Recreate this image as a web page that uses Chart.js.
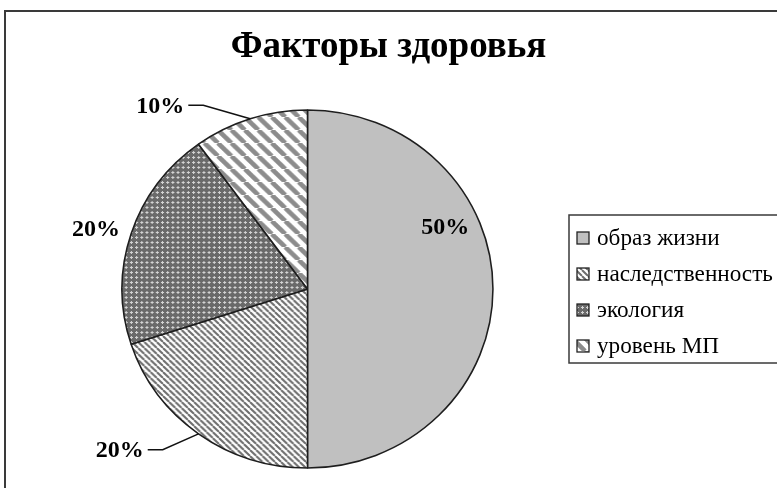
<!DOCTYPE html>
<html>
<head>
<meta charset="utf-8">
<title>Факторы здоровья</title>
<script src="https://cdn.jsdelivr.net/npm/chart.js@4/dist/chart.umd.min.js"></script>
<style>
  html, body { margin: 0; padding: 0; background: #fff; overflow: hidden; }
  canvas { display: block; }
</style>
</head>
<body>
<canvas id="factorsChart" width="777" height="488"></canvas>
<script>
const chartTitle = 'Факторы здоровья';
const factors = ['образ жизни', 'наследственность', 'экология', 'уровень МП'];
const shares = [50, 20, 20, 10];

const SERIF = '"Liberation Serif", "Times New Roman", serif';
const PIE_STRETCH = 1.036; // the pie is drawn a touch wider than tall
const ctx = document.getElementById('factorsChart').getContext('2d');

// small repeating fills, like the black-and-white office palette
function makePattern(size, paint) {
  const tile = document.createElement('canvas');
  tile.width = tile.height = size;
  paint(tile.getContext('2d'), size);
  return ctx.createPattern(tile, 'repeat');
}

function stripes(size, width, color) {
  return makePattern(size, (g, s) => {
    g.fillStyle = '#fff';
    g.fillRect(0, 0, s, s);
    g.strokeStyle = color;
    g.lineWidth = width;
    g.beginPath();
    for (const o of [-s, 0, s]) {
      g.moveTo(o, 0);
      g.lineTo(o + s, s);
    }
    g.stroke();
  });
}

const gridFill = makePattern(5, (g, s) => {
  g.fillStyle = '#6a6a6a';
  g.fillRect(0, 0, s, s);
  g.fillStyle = '#d4d4d4';
  g.fillRect(2, 1, 1, 3);
  g.fillRect(1, 2, 3, 1);
});

const fills = ['#c0c0c0', stripes(6, 2, '#6e6e6e'), gridFill, stripes(13, 4.5, '#8c8c8c')];

// where each percentage goes: distance as a share of the radius, turn in degrees from the slice middle
const labelSpots = [
  { dist: 0.82, turn: -25 },
  { dist: 1.19, turn: 5, leader: true },
  { dist: 1.19, turn: -1.5 },
  { dist: 1.17, turn: -10.7, leader: true }
];

// keeps room on the right for the legend, so the pie sits left of the title centre
const legendSpace = {
  position: 'right',
  weight: 10,
  fullSize: false,
  options: {},
  isHorizontal() { return false; },
  update(maxWidth, maxHeight) { this.width = 162; this.height = maxHeight; },
  draw() {}
};

const framePlugin = {
  id: 'frame',
  beforeInit(chart) { Chart.layouts.addBox(chart, legendSpace); },
  beforeDraw(chart) {
    const c = chart.ctx;
    c.save();
    c.fillStyle = '#fff';
    c.fillRect(0, 0, chart.width, chart.height);
    c.strokeStyle = '#3a3a3a';
    c.lineWidth = 2;
    c.strokeRect(5, 11, chart.width + 40, chart.height + 40);
    c.restore();
  }
};

const widePie = {
  id: 'widePie',
  beforeDatasetsDraw(chart) {
    const cx = chart.getDatasetMeta(0).data[0].x;
    const c = chart.ctx;
    c.save();
    c.translate(cx, 0);
    c.scale(PIE_STRETCH, 1);
    c.translate(-cx, 0);
  },
  afterDatasetsDraw(chart) {
    chart.ctx.restore();
  }
};

const percentLabels = {
  id: 'percentLabels',
  afterDatasetsDraw(chart) {
    const c = chart.ctx;
    const arcs = chart.getDatasetMeta(0).data;
    c.save();
    c.font = 'bold 24px ' + SERIF;
    c.fillStyle = '#000';
    c.strokeStyle = '#111';
    c.lineWidth = 1.5;
    c.textBaseline = 'middle';
    arcs.forEach((arc, i) => {
      const spot = labelSpots[i];
      const r = arc.outerRadius;
      const mid = (arc.startAngle + arc.endAngle) / 2;
      const a = mid + spot.turn * Math.PI / 180;
      const x = arc.x + Math.cos(a) * r * spot.dist * PIE_STRETCH;
      const y = arc.y + Math.sin(a) * r * spot.dist;
      const text = shares[i] + '%';
      if (spot.leader) {
        const ex = arc.x + Math.cos(mid) * r * PIE_STRETCH;
        const ey = arc.y + Math.sin(mid) * r;
        c.beginPath();
        c.moveTo(ex, ey);
        c.lineTo(x, y);
        c.lineTo(x - 15, y);
        c.stroke();
        c.textAlign = 'right';
        c.fillText(text, x - 19, y + 1);
      } else {
        c.textAlign = 'center';
        c.fillText(text, x, y + 1);
      }
    });
    c.restore();
  }
};

const boxedLegend = {
  id: 'boxedLegend',
  afterDraw(chart) {
    const c = chart.ctx;
    const ds = chart.data.datasets[0];
    const top = 215, left = 569, rowStep = 36;
    c.save();
    c.strokeStyle = '#3a3a3a';
    c.lineWidth = 1.5;
    c.strokeRect(left, top, 300, 148);
    c.font = '23.2px ' + SERIF;
    c.textBaseline = 'middle';
    c.textAlign = 'left';
    chart.data.labels.forEach((label, i) => {
      const cy = top + 23 + i * rowStep;
      c.fillStyle = ds.backgroundColor[i];
      c.fillRect(577, cy - 6, 12, 12);
      c.strokeStyle = '#222';
      c.lineWidth = 1.3;
      c.strokeRect(577, cy - 6, 12, 12);
      c.fillStyle = '#000';
      c.fillText(label, 597, cy + 1);
    });
    c.restore();
  }
};

new Chart(ctx, {
  type: 'pie',
  data: {
    labels: factors,
    datasets: [{
      data: shares,
      backgroundColor: fills,
      borderColor: '#1e1e1e',
      borderWidth: 1.5,
      radius: 179
    }]
  },
  options: {
    responsive: false,
    animation: false,
    events: [],
    layout: { padding: 0 },
    plugins: {
      legend: { display: false },
      tooltip: { enabled: false },
      title: {
        display: true,
        text: chartTitle,
        color: '#000',
        font: { family: SERIF, size: 37, weight: 'bold', lineHeight: 1.2 },
        padding: { top: 25.5, bottom: 20.1 }
      }
    }
  },
  plugins: [framePlugin, widePie, percentLabels, boxedLegend]
});
</script>
</body>
</html>
